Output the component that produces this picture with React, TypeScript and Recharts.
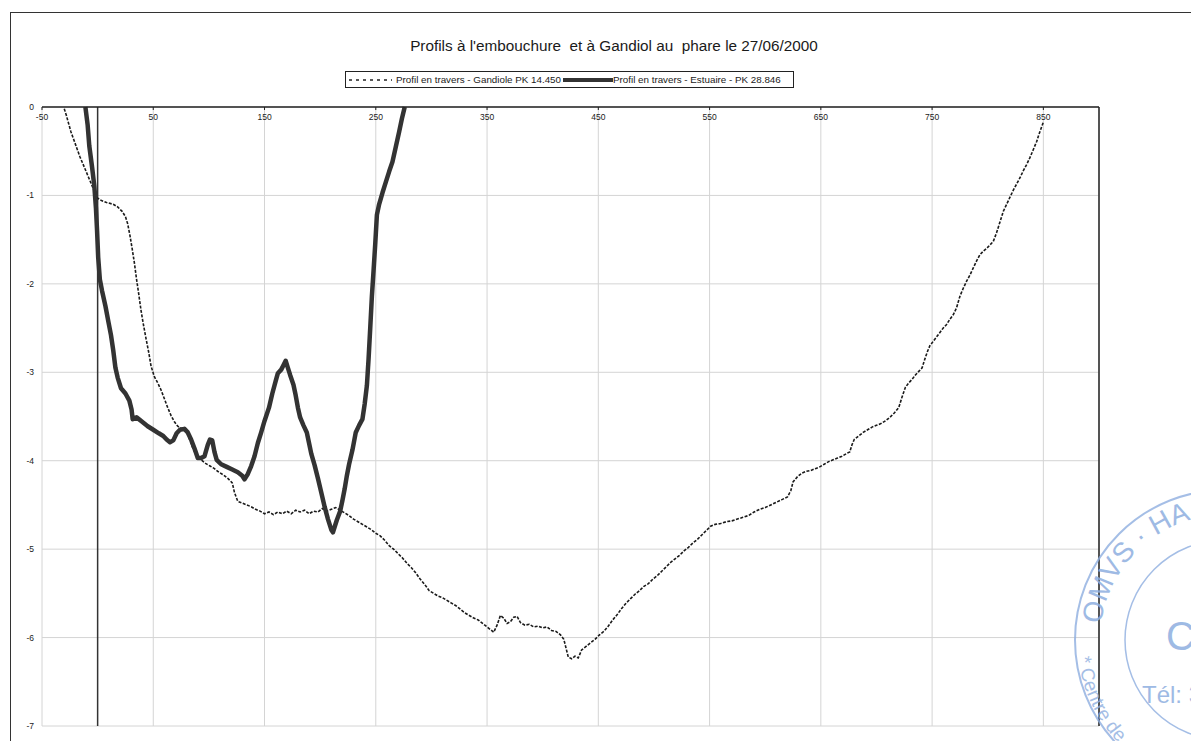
import { LineChart, Line, XAxis, YAxis, CartesianGrid, ReferenceLine } from "recharts";

const xTicks = [-50, 50, 150, 250, 350, 450, 550, 650, 750, 850];
const yTicks = [0, -1, -2, -3, -4, -5, -6, -7];

// Profil en travers - Gandiole PK 14.450 (distance m, cote m)
const gandioleDist = [
  -30, -28, -24, -20, -16, -12, -8, -4, -1, 2, 8, 14, 18, 22, 25, 27, 29, 31, 33, 35, 37, 39, 41, 43.5, 46, 48, 51, 54,
  57, 60, 63, 66, 69, 72, 76, 80, 83, 86, 89, 93, 97, 101, 105, 109, 113, 117, 121, 123, 126, 130, 134, 138, 142, 146,
  150, 154, 158, 162, 166, 170, 174, 178, 182, 186, 190, 194, 198, 202, 206, 210, 214, 218, 222, 226, 230, 234, 238,
  242, 246, 250, 254, 258, 262, 266, 270, 274, 278, 282, 286, 290, 294, 298, 302, 306, 310, 314, 318, 322, 326, 330,
  334, 338, 342, 346, 350, 354, 356, 359, 362, 365, 368, 371, 374, 377, 380, 384, 388, 392, 396, 400, 404, 408, 412,
  416, 419, 421, 423, 426, 429, 432, 435, 439, 443, 447, 451, 455, 459, 463, 467, 471, 475, 479, 483, 487, 491, 495,
  499, 503, 507, 511, 515, 519, 523, 527, 531, 535, 539, 543, 547, 551, 555, 560, 565, 570, 575, 580, 585, 590, 595,
  600, 605, 610, 615, 620, 623, 625, 629, 633, 637, 641, 645, 649, 653, 657, 661, 665, 669, 673, 676, 678, 680, 684,
  688, 692, 696, 700, 704, 708, 712, 716, 720, 723, 726, 729, 732, 735, 738, 741, 744, 746, 748, 751, 754, 757, 760,
  763, 766, 769, 772, 775, 778, 781, 784, 787, 790, 793, 796, 799, 802, 805, 808, 811, 814, 817, 820, 823, 826, 829,
  832, 835, 838, 841, 844, 846, 848, 850,
];
const gandioleDepth = [
  -0.02, -0.1, -0.28, -0.42, -0.56, -0.68, -0.8, -0.92, -1.02, -1.05, -1.08, -1.1, -1.13, -1.18, -1.24, -1.32, -1.45,
  -1.6, -1.76, -1.95, -2.12, -2.3, -2.45, -2.62, -2.78, -2.93, -3.05, -3.12, -3.2, -3.3, -3.4, -3.49, -3.56, -3.61,
  -3.64, -3.67, -3.77, -3.87, -3.95, -3.99, -4.03, -4.06, -4.09, -4.13, -4.16, -4.2, -4.25, -4.36, -4.46, -4.48, -4.5,
  -4.52, -4.55, -4.57, -4.6, -4.58, -4.61, -4.58, -4.6, -4.57, -4.6, -4.56, -4.58, -4.56, -4.6, -4.57, -4.58, -4.54,
  -4.57, -4.55, -4.53, -4.56, -4.59, -4.62, -4.66, -4.69, -4.72, -4.75, -4.78, -4.82, -4.85, -4.9, -4.96, -5.0, -5.05,
  -5.1, -5.16, -5.21, -5.27, -5.34, -5.4, -5.47, -5.5, -5.53, -5.55, -5.58, -5.61, -5.64, -5.68, -5.72, -5.75, -5.78,
  -5.8, -5.84, -5.88, -5.92, -5.94, -5.86, -5.75, -5.78, -5.84, -5.82, -5.77, -5.76, -5.83, -5.86, -5.85, -5.88, -5.87,
  -5.89, -5.88, -5.92, -5.93, -5.97, -6.02, -6.12, -6.22, -6.24, -6.21, -6.23, -6.14, -6.1, -6.06, -6.02, -5.97, -5.93,
  -5.87, -5.8, -5.74, -5.67, -5.61, -5.56, -5.51, -5.47, -5.42, -5.39, -5.34, -5.3, -5.25, -5.2, -5.15, -5.11, -5.07,
  -5.02, -4.98, -4.93, -4.89, -4.84, -4.79, -4.74, -4.72, -4.71, -4.69, -4.68, -4.66, -4.64, -4.62, -4.58, -4.55, -4.53,
  -4.5, -4.47, -4.44, -4.41, -4.34, -4.24, -4.18, -4.14, -4.12, -4.11, -4.09, -4.07, -4.04, -4.01, -3.99, -3.97, -3.95,
  -3.92, -3.9, -3.82, -3.76, -3.72, -3.68, -3.65, -3.62, -3.6, -3.58, -3.55, -3.51, -3.46, -3.4, -3.28, -3.17, -3.12,
  -3.08, -3.03, -2.99, -2.95, -2.83, -2.76, -2.7, -2.65, -2.6, -2.55, -2.5, -2.46, -2.4, -2.35, -2.27, -2.14, -2.05,
  -1.97, -1.9, -1.82, -1.74, -1.67, -1.63, -1.6, -1.56, -1.52, -1.42, -1.3, -1.18, -1.1, -1.02, -0.94, -0.87, -0.8,
  -0.72, -0.65, -0.57, -0.48, -0.39, -0.31, -0.24, -0.17,
];

// Profil en travers - Estuaire - PK 28.846
const estuaireDist = [
  -11, -9, -7.5, -5, -3, -1.5, -0.5, 0.5, 2, 4, 7, 10, 12, 14, 16, 18, 21, 25, 28.5, 30.5, 31.5, 35, 40, 45, 50, 55,
  59, 62, 65, 68, 71, 74, 78, 81, 84, 87, 90, 93, 96, 99, 101, 103, 105, 107, 111, 116, 121, 126, 130, 132, 135, 138,
  141, 144, 147, 150, 154, 157, 160, 162, 165, 167, 169, 171, 173, 176, 178, 180, 182, 185, 188, 190, 192, 195, 198,
  201, 204, 207, 210, 211.5, 213, 215, 218, 220, 222, 224, 226, 229, 232, 235, 238, 240, 242, 243.5, 245, 246.5, 248,
  249.5, 251, 253, 256, 259, 262, 265, 268, 271, 273.5, 276,
];
const estuaireDepth = [
  0, -0.2, -0.44, -0.68, -0.89, -1.15, -1.4, -1.7, -1.95, -2.08, -2.25, -2.45, -2.58, -2.75, -2.95, -3.06, -3.18,
  -3.24, -3.32, -3.42, -3.53, -3.51, -3.56, -3.61, -3.65, -3.69, -3.72, -3.76, -3.79, -3.77, -3.69, -3.65, -3.64,
  -3.68, -3.76, -3.86, -3.97, -3.97, -3.95, -3.82, -3.76, -3.77, -3.9, -3.99, -4.04, -4.07, -4.1, -4.13, -4.17, -4.21,
  -4.15, -4.06, -3.95, -3.8, -3.68, -3.55, -3.4, -3.24, -3.1, -3.01, -2.97, -2.92, -2.87, -2.95, -3.03, -3.14, -3.26,
  -3.4, -3.51, -3.6, -3.68, -3.8, -3.92, -4.05, -4.2, -4.36, -4.52, -4.66, -4.78, -4.81, -4.75, -4.67, -4.57, -4.45,
  -4.32, -4.17, -4.04, -3.88, -3.68, -3.6, -3.53, -3.36, -3.15, -2.85, -2.5, -2.14, -1.85, -1.55, -1.22, -1.1, -0.97,
  -0.85, -0.73, -0.62, -0.45, -0.28, -0.13, 0,
];

const gandiole = gandioleDist.map((x, i) => ({ x, y: gandioleDepth[i] }));
const estuaire = estuaireDist.map((x, i) => ({ x, y: estuaireDepth[i] }));

const FONT = "'Liberation Sans', Arial, sans-serif";
const INK = "#1a1a1a";

const LegendBox = () => (
  <div
    style={{
      position: "absolute",
      left: 345,
      top: 71,
      width: 449,
      height: 17,
      boxSizing: "border-box",
      display: "flex",
      alignItems: "center",
      border: "1px solid #222",
      background: "#fff",
      fontFamily: FONT,
      fontSize: 9.8,
      color: INK,
      whiteSpace: "nowrap",
      overflow: "hidden",
    }}
  >
    <svg width={50} height={6} style={{ flex: "none" }}>
      <line x1={3} y1={3} x2={46} y2={3} stroke="#222" strokeWidth={1.5} strokeDasharray="3 4" />
    </svg>
    <span>Profil en travers - Gandiole PK 14.450</span>
    <svg width={52} height={6} style={{ flex: "none" }}>
      <line x1={2} y1={3} x2={52} y2={3} stroke="#333" strokeWidth={4} />
    </svg>
    <span>Profil en travers - Estuaire - PK 28.846</span>
  </div>
);

// stamp of the scanned page (bottom right)
const Stamp = () => (
  <svg
    width={1191}
    height={741}
    style={{ position: "absolute", left: 0, top: 0, pointerEvents: "none" }}
  >
    <defs>
      <path id="ringUp" d="M 1225 765 A 125 125 0 1 1 1225.1 765" />
      <path id="ringDown" d="M 1095.6 568.2 A 148 148 0 0 0 1225 788" />
    </defs>
    <g stroke="#8eaee0" fill="none" opacity={0.8}>
      <circle cx={1225} cy={640} r={150} strokeWidth={2} />
      <circle cx={1225} cy={640} r={100} strokeWidth={1.5} />
    </g>
    <text fill="#8eaee0" fontFamily={FONT} fontSize={28} opacity={0.85}>
      <textPath href="#ringUp" startOffset="27%">OMVS · HA</textPath>
    </text>
    <text fill="#8eaee0" fontFamily={FONT} fontSize={19} opacity={0.8}>
      <textPath href="#ringDown" startOffset="30%">* Centre de</textPath>
    </text>
    <text x={1142} y={703} fill="#8eaee0" fontFamily={FONT} fontSize={24} opacity={0.85}>
      Tél: 3
    </text>
    <text x={1166} y={650} fill="#8eaee0" fontFamily={FONT} fontSize={40} opacity={0.85}>
      C
    </text>
  </svg>
);

export default function App() {
  return (
    <div style={{ position: "absolute", left: 0, top: 0, width: 1191, height: 741, background: "#fff", overflow: "hidden" }}>
      <div
        style={{
          position: "absolute",
          left: 10,
          top: 12,
          width: 1220,
          height: 760,
          border: "1.5px solid #333",
          boxSizing: "border-box",
        }}
      />
      <div
        style={{
          position: "absolute",
          left: 0,
          top: 37,
          width: 1228,
          textAlign: "center",
          fontFamily: FONT,
          fontSize: 15.3,
          color: INK,
          whiteSpace: "pre",
        }}
      >
        {"Profils à l'embouchure  et à Gandiol au  phare le 27/06/2000"}
      </div>
      <LegendBox />
      <div style={{ position: "absolute", left: 0, top: 0 }}>
        <LineChart width={1191} height={741} margin={{ top: 107, right: 0, bottom: 15, left: 0 }}>
          <CartesianGrid stroke="#d4d4d4" strokeWidth={1} />
          <XAxis
            type="number"
            dataKey="x"
            orientation="top"
            mirror
            height={1}
            domain={[-50, 900]}
            ticks={xTicks}
            allowDataOverflow
            axisLine={{ stroke: "#222", strokeWidth: 1.5 }}
            tickLine={{ stroke: "#222" }}
            tickSize={3}
            tickMargin={4}
            tick={{ fill: INK, fontSize: 8.5, fontFamily: FONT }}
          />
          <YAxis
            type="number"
            domain={[-7, 0]}
            ticks={yTicks}
            width={42}
            axisLine={false}
            tickLine={false}
            tickSize={0}
            tickMargin={8}
            tick={{ fill: INK, fontSize: 8.5, fontFamily: FONT }}
          />
          <YAxis
            yAxisId="right"
            orientation="right"
            type="number"
            domain={[-7, 0]}
            ticks={yTicks}
            width={92}
            axisLine={{ stroke: "#222", strokeWidth: 1.5 }}
            tickLine={{ stroke: "#222" }}
            tickSize={4}
            tickMargin={3}
            tick={{ fill: INK, fontSize: 8.5, fontFamily: FONT, textAnchor: "start" }}
          />
          <ReferenceLine x={0} stroke="#333" strokeWidth={1.5} />
          <Line
            data={gandiole}
            dataKey="y"
            name="Profil en travers - Gandiole PK 14.450"
            type="linear"
            stroke="#1a1a1a"
            strokeWidth={1.6}
            strokeDasharray="3 1.5"
            dot={false}
            isAnimationActive={false}
          />
          <Line
            data={estuaire}
            dataKey="y"
            name="Profil en travers - Estuaire - PK 28.846"
            type="linear"
            stroke="#333"
            strokeWidth={4.5}
            strokeLinejoin="round"
            dot={false}
            isAnimationActive={false}
          />
        </LineChart>
      </div>
      <Stamp />
    </div>
  );
}
